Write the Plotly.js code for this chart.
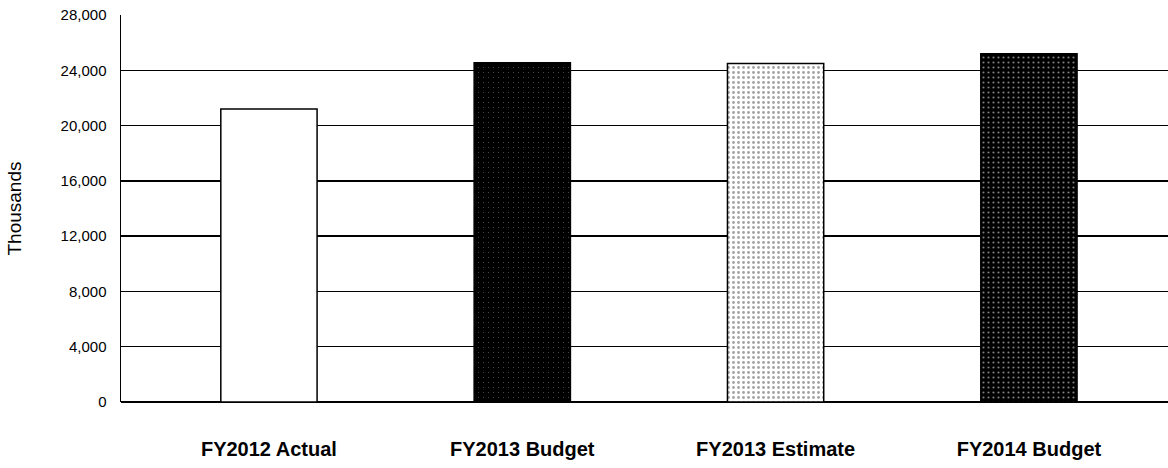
<!DOCTYPE html>
<html>
<head>
<meta charset="utf-8">
<script src="https://cdn.plot.ly/plotly-3.0.1.min.js"></script>
<style>html,body{margin:0;padding:0;background:#fff;}#chart{width:1168px;height:468px;}</style>
</head>
<body>
<div id="chart"></div>
<script>
const categories = ["FY2012 Actual", "FY2013 Budget", "FY2013 Estimate", "FY2014 Budget"];
const values = [21200, 24550, 24500, 25200];
const yTicks = [0, 4000, 8000, 12000, 16000, 20000, 24000, 28000];
const barColors = ["#ffffff", "#000000", "#ffffff", "#000000"];
const patternShapes = ["", ".", ".", "."];
const patternFg = ["#000000", "#666666", "#a0a0a0", "#808080"];
const patternSolidity = [0.1, 0.03, 0.25, 0.15];

const trace = {
  type: "bar",
  x: categories,
  y: values,
  width: 0.38,
  marker: {
    color: barColors,
    line: {color: "#000", width: 1.5},
    pattern: {shape: patternShapes, fgcolor: patternFg, bgcolor: barColors, size: 5, solidity: patternSolidity, fillmode: "overlay"}
  },
  hoverinfo: "none"
};

const layout = {
  width: 1168, height: 468,
  margin: {l: 121, r: 0, t: 15, b: 66},
  paper_bgcolor: "#fff", plot_bgcolor: "#fff",
  showlegend: false,
  font: {family: "Liberation Sans, Arial, sans-serif", color: "#000"},
  xaxis: {
    type: "category",
    range: [-0.584, 3.549],
    showgrid: false, showline: false, zeroline: false,
    ticks: "", ticklabelstandoff: 33,
    tickfont: {size: 20, family: "Liberation Sans, Arial, sans-serif", weight: "bold", color: "#000"}
  },
  yaxis: {
    range: [0, 28000],
    tickvals: yTicks,
    tickformat: ",",
    showgrid: true, gridcolor: "#000", gridwidth: 1.5,
    zeroline: true, zerolinecolor: "#000", zerolinewidth: 1.5,
    showline: true, linecolor: "#000", linewidth: 1.5,
    ticks: "", ticklabelstandoff: 10,
    tickfont: {size: 15, color: "#000"},
    title: {text: "Thousands", font: {size: 19, color: "#000"}, standoff: 34}
  }
};

Plotly.newPlot("chart", [trace], layout, {staticPlot: true, displayModeBar: false});
</script>
</body>
</html>
